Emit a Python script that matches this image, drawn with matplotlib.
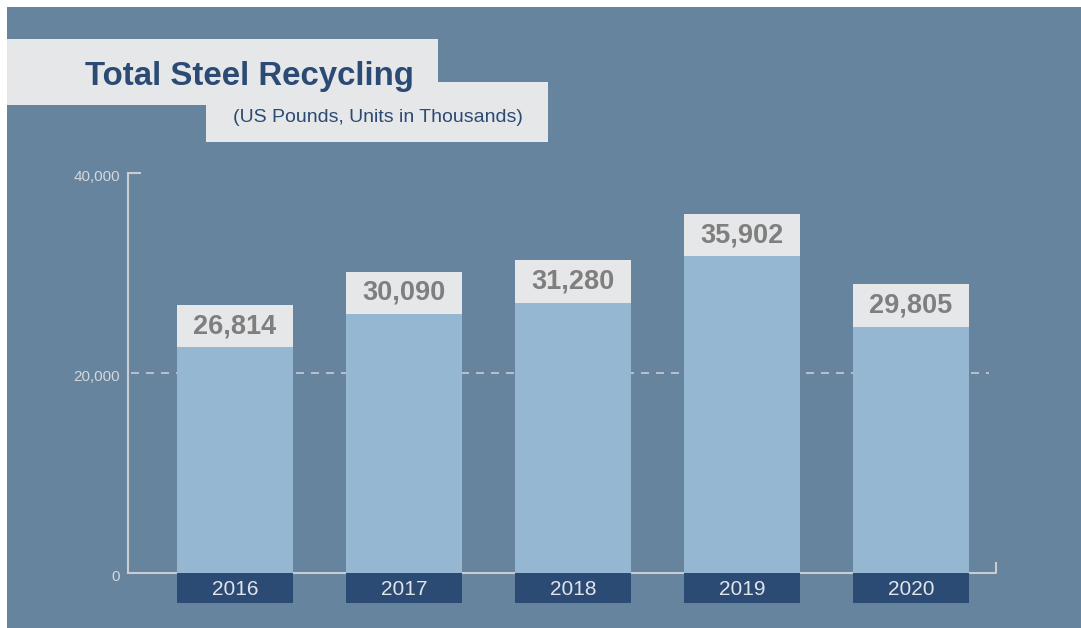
import matplotlib
matplotlib.use("Agg")
import matplotlib.pyplot as plt
from matplotlib.patches import Polygon, Rectangle

# ---- data ----
years = ["2016", "2017", "2018", "2019", "2020"]
value_labels = ["26,814", "30,090", "31,280", "35,902", "29,805"]
bar_heights = [26814, 30150, 31280, 35902, 28900]   # drawn bar heights
ytick_vals = [0, 20000, 40000]
ytick_labels = ["0", "20,000", "40,000"]
title = "Total Steel Recycling"
subtitle = "(US Pounds, Units in Thousands)"

# ---- style ----
BG = "#67849e"
BAR = "#96b7d1"
LIGHT = "#e6e7e9"
NAVY = "#2b4a74"
VALTXT = "#7f7f7f"
AXC = "#c8cdd3"
TICKTXT = "#d3d8de"
YEARTXT = "#e1e5ea"
FONT = "Liberation Sans"

W, H = 1081, 628
fig = plt.figure(figsize=(W / 100, H / 100), dpi=100)
fig.patch.set_facecolor("white")

# background axes in pixel coordinates
bg = fig.add_axes([0, 0, 1, 1])
bg.set_xlim(0, W)
bg.set_ylim(H, 0)
bg.axis("off")
bg.add_patch(Rectangle((7, 7), W - 7, H - 7, facecolor=BG, edgecolor="none"))
poly = [(7, 39), (438, 39), (438, 82), (548, 82), (548, 142), (206, 142), (206, 105), (7, 105)]
bg.add_patch(Polygon(poly, closed=True, facecolor=LIGHT, edgecolor="none"))
bg.text(85, 85, title, fontsize=23.8, fontweight="bold", color=NAVY, family=FONT,
        ha="left", va="baseline")
bg.text(233, 117, subtitle, fontsize=14, color=NAVY, family=FONT,
        ha="left", va="center")

# main axes
x0, x1 = 128, 996
y0, ytop = 573, 173
ax = fig.add_axes([x0 / W, (H - y0) / H, (x1 - x0) / W, (y0 - ytop) / H])
ax.set_facecolor("none")
spacing = 169.0
c0 = 235.0
ax.set_xlim((x0 - c0) / spacing, (x1 - c0) / spacing)
ax.set_ylim(0, 40000)
for s in ax.spines.values():
    s.set_visible(False)
ax.set_xticks([])
ax.set_yticks([])

xs = list(range(len(years)))
bw = 116 / spacing
box_h = 4250
year_h = 3000

# dashed gridline at 20,000
ax.plot([0.003, 0.992], [20000, 20000], transform=ax.get_yaxis_transform(),
        color=AXC, lw=1.2, ls=(0, (4.8, 4.2)), zorder=1, clip_on=False)

# axis lines
ax.plot([0, 0], [0, 1], transform=ax.transAxes, color=AXC, lw=1.5, zorder=2, clip_on=False)
ax.plot([0, 12 / (x1 - x0)], [1, 1], transform=ax.transAxes, color=AXC, lw=1.5, zorder=2, clip_on=False)
ax.plot([0, 1, 1], [0, 0, 10 / (y0 - ytop)], transform=ax.transAxes, color=AXC, lw=1.5,
        zorder=2, clip_on=False)

# bars
ax.bar(xs, bar_heights, width=bw, color=BAR, zorder=3)
ax.bar(xs, [box_h] * len(bar_heights), bottom=[v - box_h for v in bar_heights], width=bw,
       color=LIGHT, zorder=4)
ax.bar(xs, [year_h] * len(bar_heights), bottom=[-year_h] * len(bar_heights), width=bw,
       color=NAVY, zorder=4, clip_on=False)

for x, v, lab, yr in zip(xs, bar_heights, value_labels, years):
    ax.text(x, v - box_h / 2, lab, ha="center", va="center", fontsize=19.5,
            fontweight="bold", color=VALTXT, family=FONT, zorder=5)
    ax.text(x, -year_h / 2 - 150, yr, ha="center", va="center", fontsize=15,
            color=YEARTXT, family=FONT, zorder=5, clip_on=False)

for tv, tl in zip(ytick_vals, ytick_labels):
    ax.text(-8 / spacing + (x0 - c0) / spacing, tv - 380, tl, ha="right", va="center",
            fontsize=11, color=TICKTXT, family=FONT, clip_on=False)

fig.savefig("out.png", dpi=100, facecolor="white")
